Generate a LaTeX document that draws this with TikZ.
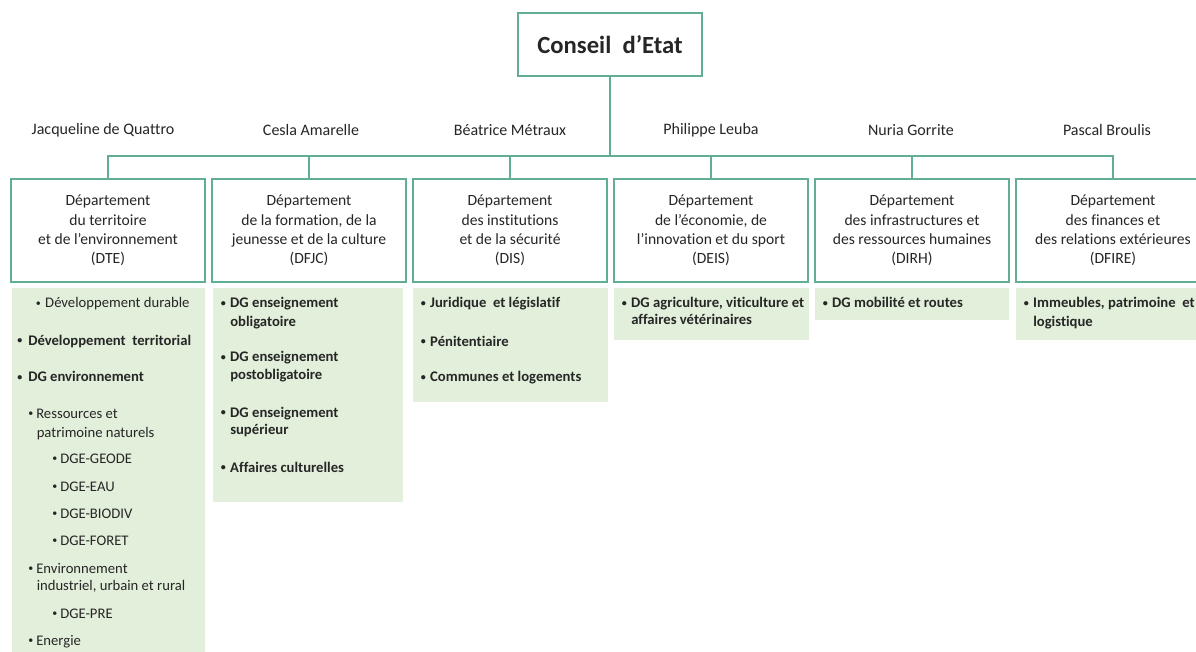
\documentclass[tikz,border=0pt]{standalone}
\usepackage{fontspec}
\setmainfont{Carlito}[Ligatures={NoCommon}]
\definecolor{bordercol}{HTML}{62AD95}
\definecolor{fillcol}{HTML}{E2EFDA}
\definecolor{textcol}{HTML}{262626}
\newcommand{\bl}[2]{\makebox[#1][l]{\raisebox{0.12em}{\fontsize{7.5}{7.5}\selectfont•}}#2}
\begin{document}
\begin{tikzpicture}[x=0.75pt,y=-0.75pt,
  every node/.style={text=textcol},
  topbox/.style={draw=bordercol, line width=1.9pt, minimum width=138pt, minimum height=47.25pt, inner sep=0pt, font=\fontsize{18.5}{22}\selectfont\bfseries},
  deptbox/.style={draw=bordercol, line width=1.9pt, minimum width=145.5pt, minimum height=77.25pt, inner sep=0pt, align=center, font=\fontsize{11.7}{14.6}\selectfont},
  person/.style={inner sep=0pt, font=\fontsize{12}{14}\selectfont},
  conn/.style={draw=bordercol, line width=1.1pt},
  greenbox/.style={fill=fillcol, inner sep=0pt, anchor=north west},
  itemr/.style={inner sep=0pt, anchor=base west, font=\fontsize{11}{13}\selectfont},
  itemb/.style={inner sep=0pt, anchor=base west, font=\fontsize{11}{13}\selectfont\bfseries}
]
\useasboundingbox (0,0) rectangle (1196,652);
\fill[white] (0,0) rectangle (1196,652);

% top
\node[topbox] (ce) at (610,44.5) {Conseil\ \ d’Etat};

% persons
\node[person] (p1) at (103,130) {Jacqueline de Quattro};
\node[person] (p2) at (311,130) {Cesla Amarelle};
\node[person] (p3) at (510,130) {Béatrice Métraux};
\node[person] (p4) at (711,130) {Philippe Leuba};
\node[person] (p5) at (911,130) {Nuria Gorrite};
\node[person] (p6) at (1107,130) {Pascal Broulis};

% departments
\node[deptbox] (dte) at (108,230.5) {Département\\du territoire\\et de l’environnement\\(DTE)};
\node[deptbox] (dfjc) at (309,230.5) {Département\\de la formation, de la\\jeunesse et de la culture\\(DFJC)};
\node[deptbox] (dis) at (510,230.5) {Département\\des institutions\\et de la sécurité\\(DIS)};
\node[deptbox] (deis) at (711,230.5) {Département\\de l’économie, de\\l’innovation et du sport\\(DEIS)};
\node[deptbox] (dirh) at (912,230.5) {Département\\des infrastructures et\\des ressources humaines\\(DIRH)};
\node[deptbox] (dfire) at (1113,230.5) {Département\\des finances et\\des relations extérieures\\(DFIRE)};

% connectors
\coordinate (bus) at (0,156);
\draw[conn] (dte.north) -- (dte.north |- bus) -- (dfire.north |- bus) -- (dfire.north);
\draw[conn] (ce.south) -- (ce.south |- bus);
\draw[conn] (dfjc.north) -- (dfjc.north |- bus);
\draw[conn] (dis.north) -- (dis.north |- bus);
\draw[conn] (deis.north) -- (deis.north |- bus);
\draw[conn] (dirh.north) -- (dirh.north |- bus);

% green boxes
\node[greenbox, minimum width=144.75pt, minimum height=273pt] (gdte) at (12,288) {};
\node[greenbox, minimum width=142.5pt, minimum height=160.5pt] (gdfjc) at (213,288) {};
\node[greenbox, minimum width=146.25pt, minimum height=85.5pt] (gdis) at (413,288) {};
\node[greenbox, minimum width=146.25pt, minimum height=39pt] (gdeis) at (614,288) {};
\node[greenbox, minimum width=145.5pt, minimum height=24pt] (gdirh) at (815,288) {};
\node[greenbox, minimum width=145.5pt, minimum height=39pt] (gdfire) at (1016,288) {};

% DTE items
\node[itemr] (t1) at (35.5,308) {\bl{7.1pt}{Développement durable}};
\node[itemb] (t2) at (17,345) {\bl{8.25pt}{Développement\ \ territorial}};
\node[itemb] (t3) at (17,382) {\bl{8.25pt}{DG environnement}};
\node[itemr] (t4) at (28,418) {\bl{6pt}{Ressources et}};
\node[itemr] (t4b) at (36.5,437) {patrimoine naturels};
\node[itemr] (t5) at (52,463) {\bl{6pt}{DGE-GEODE}};
\node[itemr] (t6) at (52,491) {\bl{6pt}{DGE-EAU}};
\node[itemr] (t7) at (52,518) {\bl{6pt}{DGE-BIODIV}};
\node[itemr] (t8) at (52,545) {\bl{6pt}{DGE-FORET}};
\node[itemr] (t9) at (28,573) {\bl{6pt}{Environnement}};
\node[itemr] (t9b) at (36.5,590) {industriel, urbain et rural};
\node[itemr] (t10) at (52,618) {\bl{6pt}{DGE-PRE}};
\node[itemr] (t11) at (28,645) {\bl{6pt}{Energie}};

% DFJC items
\node[itemb] (f1) at (220.5,308) {\bl{7.1pt}{DG enseignement}};
\node[itemb] (f1b) at (230,326) {obligatoire};
\node[itemb] (f2) at (220.5,362) {\bl{7.1pt}{DG enseignement}};
\node[itemb] (f2b) at (230,379) {postobligatoire};
\node[itemb] (f3) at (220.5,417) {\bl{7.1pt}{DG enseignement}};
\node[itemb] (f3b) at (230,434) {supérieur};
\node[itemb] (f4) at (220.5,472) {\bl{7.1pt}{Affaires culturelles}};

% DIS items
\node[itemb] (s1) at (420.5,308) {\bl{7.1pt}{Juridique\ \ et législatif}};
\node[itemb] (s2) at (420.5,346) {\bl{7.1pt}{Pénitentiaire}};
\node[itemb] (s3) at (420.5,382) {\bl{7.1pt}{Communes et logements}};

% DEIS items
\node[itemb] (e1) at (621.5,308) {\bl{7.1pt}{DG agriculture,\ viticulture et}};
\node[itemb] (e1b) at (631,325) {affaires vétérinaires};

% DIRH items
\node[itemb] (h1) at (822.5,308) {\bl{7.1pt}{DG mobilité et routes}};

% DFIRE items
\node[itemb] (r1) at (1023.5,308) {\bl{7.1pt}{Immeubles, patrimoine\ \ et}};
\node[itemb] (r1b) at (1033,326) {logistique};
\end{tikzpicture}
\end{document}
